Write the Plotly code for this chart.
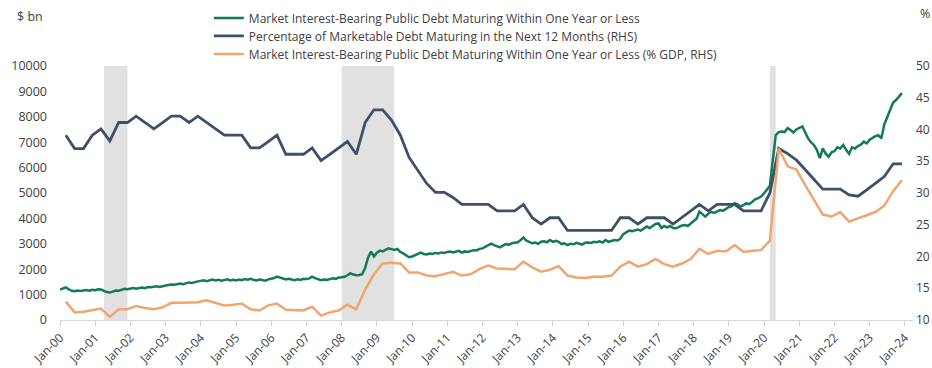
import pandas as pd
import plotly.graph_objects as go

# Market interest-bearing public debt maturing within one year or less ($ bn), monthly Jan-2000 .. Dec-2023
debt_1y_bn = [
    1200, 1230, 1280, 1210, 1150, 1130, 1160, 1140, 1170, 1180, 1150, 1190,  # 2000
    1170, 1210, 1200, 1140, 1100, 1080, 1120, 1160, 1150, 1200, 1230, 1210,  # 2001
    1240, 1260, 1230, 1270, 1280, 1250, 1300, 1290, 1310, 1330, 1300, 1340,  # 2002
    1360, 1380, 1400, 1390, 1420, 1440, 1410, 1450, 1480, 1460, 1500, 1520,  # 2003
    1540, 1560, 1530, 1570, 1590, 1560, 1580, 1550, 1570, 1600, 1560, 1580,  # 2004
    1560, 1590, 1570, 1610, 1590, 1620, 1580, 1560, 1590, 1570, 1550, 1600,  # 2005
    1620, 1650, 1710, 1680, 1640, 1600, 1620, 1590, 1570, 1600, 1580, 1620,  # 2006
    1610, 1640, 1710, 1650, 1600, 1570, 1590, 1580, 1610, 1640, 1620, 1670,  # 2007
    1680, 1700, 1760, 1840, 1790, 1760, 1770, 1800, 2050, 2450, 2690, 2500,  # 2008
    2650, 2730, 2700, 2770, 2820, 2790, 2760, 2800, 2680, 2620, 2560, 2470,  # 2009
    2500, 2560, 2620, 2650, 2600, 2580, 2620, 2600, 2640, 2620, 2660, 2640,  # 2010
    2680, 2700, 2660, 2690, 2720, 2650, 2700, 2680, 2720, 2750, 2740, 2800,  # 2011
    2820, 2880, 2920, 3010, 2950, 2900, 2860, 2930, 2990, 2960, 3020, 3040,  # 2012
    3060, 3150, 3250, 3120, 3060, 3020, 3050, 3000, 3080, 3100, 3060, 3150,  # 2013
    3080, 3120, 3080, 2990, 3020, 2950, 3000, 2980, 3040, 3000, 2970, 3040,  # 2014
    3050, 3030, 3080, 3060, 3100, 3050, 3150, 3080, 3120, 3150, 3130, 3200,  # 2015
    3380, 3450, 3520, 3500, 3540, 3560, 3520, 3600, 3680, 3620, 3700, 3780,  # 2016
    3800, 3620, 3700, 3650, 3700, 3620, 3610, 3680, 3720, 3740, 3700, 3800,  # 2017
    3920, 4000, 4270, 4150, 4070, 4180, 4260, 4220, 4280, 4330, 4300, 4380,  # 2018
    4450, 4480, 4600, 4550, 4470, 4520, 4600, 4560, 4650, 4750, 4800, 4860,  # 2019
    4990, 5120, 5280, 6300, 7280, 7400, 7420, 7400, 7550, 7480, 7380, 7500,  # 2020
    7550, 7620, 7400, 7150, 7000, 6890, 6700, 6370, 6760, 6550, 6430, 6600,  # 2021
    6650, 6800, 6750, 6890, 6700, 6540, 6800, 6750, 6850, 6900, 7020, 6950,  # 2022
    7100, 7190, 7240, 7280, 7150, 7700, 8000, 8300, 8560, 8660, 8800, 8930,  # 2023
]

# Percentage of marketable debt maturing in the next 12 months (%), quarterly Mar-2000 .. Dec-2023
pct_maturing_12m = [
    39.1, 37.0, 37.0, 39.1,  # 2000
    40.1, 38.2, 41.1, 41.1,  # 2001
    42.1, 41.1, 40.1, 41.1,  # 2002
    42.1, 42.1, 41.1, 42.1,  # 2003
    41.1, 40.1, 39.1, 39.1,  # 2004
    39.1, 37.1, 37.1, 38.1,  # 2005
    39.1, 36.1, 36.1, 36.1,  # 2006
    37.1, 35.1, 36.1, 37.1,  # 2007
    38.1, 36.1, 41.1, 43.1,  # 2008
    43.1, 41.5, 39.1, 35.6,  # 2009
    33.5, 31.5, 30.1, 30.1,  # 2010
    29.3, 28.2, 28.2, 28.2,  # 2011
    28.2, 27.2, 27.2, 27.2,  # 2012
    28.2, 26.1, 25.1, 26.1,  # 2013
    26.1, 24.1, 24.1, 24.1,  # 2014
    24.1, 24.1, 24.1, 26.1,  # 2015
    26.1, 25.1, 26.1, 26.1,  # 2016
    26.1, 25.1, 26.1, 27.1,  # 2017
    28.2, 27.2, 28.2, 28.2,  # 2018
    28.2, 27.2, 27.2, 27.2,  # 2019
    30.0, 37.0, 36.2, 35.2,  # 2020
    33.7, 32.2, 30.6, 30.6,  # 2021
    30.6, 29.7, 29.5, 30.5,  # 2022
    31.5, 32.6, 34.6, 34.6,  # 2023
]

# Debt maturing within one year or less as % of GDP, quarterly Mar-2000 .. Dec-2023
debt_1y_pct_gdp = [
    12.9, 11.2, 11.3, 11.5,  # 2000
    11.8, 10.5, 11.7, 11.7,  # 2001
    12.2, 11.9, 11.7, 12.0,  # 2002
    12.7, 12.7, 12.7, 12.8,  # 2003
    13.1, 12.7, 12.3, 12.4,  # 2004
    12.6, 11.7, 11.5, 12.3,  # 2005
    12.6, 11.6, 11.5, 11.5,  # 2006
    12.1, 10.7, 11.2, 11.5,  # 2007
    12.4, 11.7, 14.8, 17.2,  # 2008
    18.9, 19.0, 18.9, 17.5,  # 2009
    17.5, 17.0, 16.9, 17.2,  # 2010
    17.6, 17.0, 17.2, 18.0,  # 2011
    18.6, 18.1, 18.1, 18.0,  # 2012
    19.2, 18.3, 17.6, 17.9,  # 2013
    18.5, 17.0, 16.7, 16.6,  # 2014
    16.8, 16.8, 17.0, 18.4,  # 2015
    19.2, 18.4, 18.8, 19.6,  # 2016
    18.8, 18.4, 18.9, 19.6,  # 2017
    21.2, 20.4, 20.9, 20.8,  # 2018
    21.8, 20.7, 20.9, 21.0,  # 2019
    22.5, 37.0, 34.2, 33.7,  # 2020
    31.3, 28.9, 26.6, 26.3,  # 2021
    27.0, 25.5, 26.0, 26.5,  # 2022
    27.0, 28.0, 30.3, 32.0,  # 2023
]

# US recessions (shaded)
recession_start = ["2001-04-01", "2008-01-01", "2020-03-01"]
recession_end = ["2001-12-01", "2009-06-30", "2020-04-30"]

tick_dates = ["2000-01-01", "2001-01-01", "2002-01-01", "2003-01-01", "2004-01-01",
              "2005-01-01", "2006-01-01", "2007-01-01", "2008-01-01", "2009-01-01",
              "2010-01-01", "2011-01-01", "2012-01-01", "2013-01-01", "2014-01-01",
              "2015-01-01", "2016-01-01", "2017-01-01", "2018-01-01", "2019-01-01",
              "2020-01-01", "2021-01-01", "2022-01-01", "2023-01-01", "2024-01-01"]
tick_labels = ["Jan-00", "Jan-01", "Jan-02", "Jan-03", "Jan-04", "Jan-05", "Jan-06",
               "Jan-07", "Jan-08", "Jan-09", "Jan-10", "Jan-11", "Jan-12", "Jan-13",
               "Jan-14", "Jan-15", "Jan-16", "Jan-17", "Jan-18", "Jan-19", "Jan-20",
               "Jan-21", "Jan-22", "Jan-23", "Jan-24"]

monthly = pd.date_range("2000-01-01", periods=len(debt_1y_bn), freq="MS")
quarterly = pd.date_range("2000-03-01", periods=len(pct_maturing_12m), freq="3MS")

GREEN = "#137a57"
NAVY = "#3e5068"
ORANGE = "#f0a56e"
TEXT = "#404040"
FONT = "Open Sans"

fig = go.Figure()

fig.add_trace(go.Scatter(
    x=monthly, y=debt_1y_bn, mode="lines",
    name="Market Interest-Bearing Public Debt Maturing Within One Year or Less",
    line=dict(color=GREEN, width=2.5), yaxis="y", legend="legend",
))
fig.add_trace(go.Scatter(
    x=quarterly, y=pct_maturing_12m, mode="lines",
    name="Percentage of Marketable Debt Maturing in the Next 12 Months (RHS)",
    line=dict(color=NAVY, width=2.8), yaxis="y2", legend="legend2",
))
fig.add_trace(go.Scatter(
    x=quarterly, y=debt_1y_pct_gdp, mode="lines",
    name="Market Interest-Bearing Public Debt Maturing Within One Year or Less (% GDP, RHS)",
    line=dict(color=ORANGE, width=2.5), yaxis="y2", legend="legend3",
))

for s, e in zip(recession_start, recession_end):
    fig.add_shape(type="rect", xref="x", yref="paper", x0=s, x1=e, y0=0, y1=1,
                  fillcolor="#e1e1e1", line=dict(width=0), layer="below")

legend_style = dict(
    x=0.1745, xanchor="left", yanchor="top",
    bgcolor="rgba(0,0,0,0)", font=dict(size=12, color=TEXT), itemwidth=30,
)

fig.update_layout(
    width=932, height=368,
    margin=dict(l=60, r=19, t=66, b=48, autoexpand=False),
    paper_bgcolor="white", plot_bgcolor="white",
    font=dict(family=FONT, size=12, color=TEXT),
    showlegend=True,
    legend=dict(y=1.2462, **legend_style),
    legend2=dict(y=1.1753, **legend_style),
    legend3=dict(y=1.1044, **legend_style),
    xaxis=dict(
        type="date", range=["2000-01-01", "2024-03-25"],
        tickmode="array", tickvals=tick_dates, ticktext=tick_labels,
        tickangle=-45, ticks="outside", ticklen=5, tickcolor="#d0d0d0",
        showline=True, linecolor="#d9d9d9", linewidth=1,
        showgrid=False, zeroline=False,
        tickfont=dict(size=12, color=TEXT),
    ),
    yaxis=dict(
        range=[0, 10000], dtick=1000, tickmode="linear", tick0=0, tickformat="d",
        showgrid=False, zeroline=False, showline=False,
        ticklabelstandoff=12, tickfont=dict(size=12.5, color=TEXT),
    ),
    yaxis2=dict(
        range=[10, 50], dtick=5, tickmode="linear", tick0=10, tickformat="d",
        overlaying="y", side="right", anchor="x",
        showgrid=False, zeroline=False, showline=False,
        ticklabelstandoff=2, tickfont=dict(size=12, color=TEXT),
    ),
    annotations=[
        dict(text="$ bn", xref="paper", yref="paper", x=-0.0176, y=1.193,
             xanchor="right", yanchor="middle", showarrow=False,
             font=dict(size=12.5, color=TEXT)),
        dict(text="%", xref="paper", yref="paper", x=1.0059, y=1.205,
             xanchor="left", yanchor="middle", showarrow=False,
             font=dict(size=12.5, color=TEXT)),
    ],
)

fig.write_html("out.html")
